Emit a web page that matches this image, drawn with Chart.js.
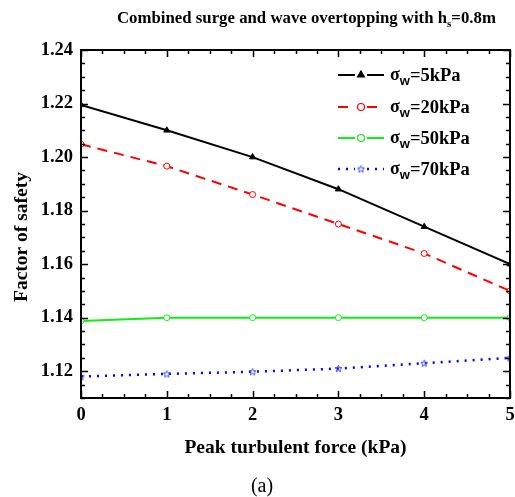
<!DOCTYPE html>
<html>
<head>
<meta charset="utf-8">
<script src="https://cdn.jsdelivr.net/npm/chart.js@4.4.1/dist/chart.umd.min.js"></script>
<style>
  html, body { margin: 0; padding: 0; background: #fff; }
  #wrap { width: 515px; height: 497px; }
</style>
</head>
<body>
<div id="wrap"><canvas id="c" width="515" height="497"></canvas></div>
<script>
// ---------- data ----------
const X_VALUES = [0, 1, 2, 3, 4, 5];
const SW5  = [1.2195, 1.210, 1.200, 1.188, 1.174, 1.160];
const SW20 = [1.2048, 1.1966, 1.186, 1.175, 1.164, 1.150];
const SW50 = [1.1388, 1.140, 1.140, 1.140, 1.140, 1.140];
const SW70 = [1.118, 1.119, 1.1198, 1.121, 1.123, 1.125];
const SERIES_NAMES = ['5kPa', '20kPa', '50kPa', '70kPa'];
const X_TICKS = [0, 1, 2, 3, 4, 5];
const Y_TICKS = [1.12, 1.14, 1.16, 1.18, 1.20, 1.22, 1.24];

const SERIF = '"Liberation Serif", "DejaVu Serif", serif';
const pts = vals => X_VALUES.map((x, i) => ({ x, y: vals[i] }));

// small open star marker (5 points)
function starMarker(color) {
  const c = document.createElement('canvas');
  c.width = 9; c.height = 9;
  const g = c.getContext('2d');
  g.strokeStyle = color;
  g.lineWidth = 1;
  g.beginPath();
  for (let i = 0; i < 10; i++) {
    const r = i % 2 ? 1.6 : 3.6;
    const ang = -Math.PI / 2 + i * Math.PI / 5;
    const px = 4.5 + r * Math.cos(ang), py = 4.8 + r * Math.sin(ang);
    i ? g.lineTo(px, py) : g.moveTo(px, py);
  }
  g.closePath();
  g.stroke();
  return c;
}
const STAR = starMarker('#3344ff');

// ---------- plugin: frame, inner ticks, texts, legend ----------
const decor = {
  id: 'decor',
  afterDatasetsDraw(chart) {
    const { ctx, chartArea: a, scales: { x, y } } = chart;
    ctx.save();
    ctx.strokeStyle = '#000';
    ctx.lineWidth = 1.5;
    // inward ticks on all sides
    ctx.beginPath();
    for (let v = 0; v <= 5.0001; v += 0.25) {
      const px = Math.round(x.getPixelForValue(v)) + 0.5;
      const len = Math.abs(v - Math.round(v)) < 1e-6 ? 7 : 4;
      ctx.moveTo(px, a.bottom); ctx.lineTo(px, a.bottom - len);
      ctx.moveTo(px, a.top); ctx.lineTo(px, a.top + len);
    }
    for (let v = 1.11; v <= 1.2401; v += 0.005) {
      const py = Math.round(y.getPixelForValue(v)) + 0.5;
      const major = Math.abs(v * 50 - Math.round(v * 50)) < 1e-6;
      const len = major ? 7 : 4;
      ctx.moveTo(a.left, py); ctx.lineTo(a.left + len, py);
      ctx.moveTo(a.right, py); ctx.lineTo(a.right - len, py);
    }
    ctx.stroke();
    // frame
    ctx.lineWidth = 2;
    ctx.strokeRect(a.left, a.top, a.right - a.left, a.bottom - a.top);

    // legend
    const rows = [75, 107, 138, 169];
    chart.data.datasets.forEach((ds, i) => {
      const yy = rows[i];
      ctx.save();
      ctx.strokeStyle = ds.borderColor;
      ctx.lineWidth = ds.borderWidth;
      ctx.setLineDash(ds.borderDash || []);
      ctx.beginPath();
      ctx.moveTo(338, yy); ctx.lineTo(355, yy);
      ctx.moveTo(367, yy); ctx.lineTo(384, yy);
      ctx.stroke();
      ctx.restore();
      ctx.save();
      ctx.strokeStyle = ds.borderColor;
      ctx.fillStyle = ds.pointBackgroundColor;
      ctx.lineWidth = 1.2;
      Chart.helpers.drawPoint(ctx, {
        pointStyle: ds.pointStyle, radius: ds.pointRadius + 0.5, borderWidth: 1.2, rotation: 0
      }, 361, yy);
      ctx.restore();
      ctx.fillStyle = '#000';
      ctx.textBaseline = 'alphabetic';
      ctx.textAlign = 'left';
      ctx.font = 'bold 18px ' + SERIF;
      ctx.fillText('σ', 390, yy + 5);
      let w = ctx.measureText('σ').width;
      ctx.font = 'bold 13px "Liberation Sans", Arial, sans-serif';
      ctx.fillText('w', 390 + w, yy + 10);
      w += ctx.measureText('w').width;
      ctx.font = 'bold 18.5px ' + SERIF;
      ctx.fillText('=' + SERIES_NAMES[i], 390 + w, yy + 6);
    });

    // title with subscript
    ctx.fillStyle = '#000';
    ctx.textBaseline = 'alphabetic';
    ctx.textAlign = 'left';
    ctx.font = 'bold 16.8px ' + SERIF;
    const t1 = 'Combined surge and wave overtopping with h';
    let tx = 117;
    ctx.fillText(t1, tx, 23);
    tx += ctx.measureText(t1).width;
    ctx.font = 'bold 11px ' + SERIF;
    ctx.fillText('s', tx, 27);
    tx += ctx.measureText('s').width;
    ctx.font = 'bold 16.8px ' + SERIF;
    ctx.fillText('=0.8m', tx, 23);

    // axis titles
    ctx.textAlign = 'center';
    ctx.textBaseline = 'middle';
    ctx.font = 'bold 19.5px ' + SERIF;
    ctx.fillText('Peak turbulent force (kPa)', (a.left + a.right) / 2, 448);
    ctx.save();
    ctx.translate(22, 237);
    ctx.rotate(-Math.PI / 2);
    ctx.fillText('Factor of safety', 0, 0);
    ctx.restore();
    ctx.font = '20px ' + SERIF;
    ctx.fillText('(a)', 262, 487);
    ctx.restore();
  }
};

new Chart(document.getElementById('c'), {
  type: 'line',
  data: {
    datasets: [
      { label: 'σw=5kPa', data: pts(SW5), borderColor: '#000', backgroundColor: '#000',
        borderWidth: 2, pointStyle: 'triangle', pointRadius: 3.5, pointBorderWidth: 1,
        pointBackgroundColor: '#000' },
      { label: 'σw=20kPa', data: pts(SW20), borderColor: '#ff0000', backgroundColor: '#fff',
        borderWidth: 2, borderDash: [10, 7], pointStyle: 'circle', pointRadius: 3,
        pointBorderWidth: 1, pointBackgroundColor: '#fff' },
      { label: 'σw=50kPa', data: pts(SW50), borderColor: '#11ee11', backgroundColor: '#fff',
        borderWidth: 2, pointStyle: 'circle', pointRadius: 3, pointBorderWidth: 1,
        pointBackgroundColor: '#fff' },
      { label: 'σw=70kPa', data: pts(SW70), borderColor: '#0000ff', backgroundColor: '#fff',
        borderWidth: 2.5, borderDash: [2, 6], pointStyle: STAR, pointRadius: 3.5,
        pointBorderWidth: 1, pointBackgroundColor: '#fff' }
    ]
  },
  options: {
    responsive: false,
    animation: false,
    layout: { padding: { top: 50, right: 3, left: 0, bottom: 0 } },
    plugins: { legend: { display: false }, tooltip: { enabled: false }, title: { display: false } },
    scales: {
      x: {
        type: 'linear', min: 0, max: 5,
        afterBuildTicks: s => { s.ticks = X_TICKS.map(v => ({ value: v })); },
        afterFit: s => { s.height = 99; s.paddingLeft = 0; s.paddingRight = 0; },
        grid: { display: false, drawTicks: false },
        border: { display: false },
        ticks: { padding: 6, color: '#000', font: { family: SERIF, size: 18.5, weight: 'bold' } }
      },
      y: {
        type: 'linear', min: 1.11, max: 1.24,
        afterBuildTicks: s => { s.ticks = Y_TICKS.map(v => ({ value: v })); },
        afterFit: s => { s.width = 81; s.paddingTop = 0; s.paddingBottom = 0; },
        grid: { display: false, drawTicks: false },
        border: { display: false },
        ticks: { padding: 8, color: '#000', font: { family: SERIF, size: 18.5, weight: 'bold' },
                 callback: v => v.toFixed(2) }
      }
    }
  },
  plugins: [decor]
});
</script>
</body>
</html>
